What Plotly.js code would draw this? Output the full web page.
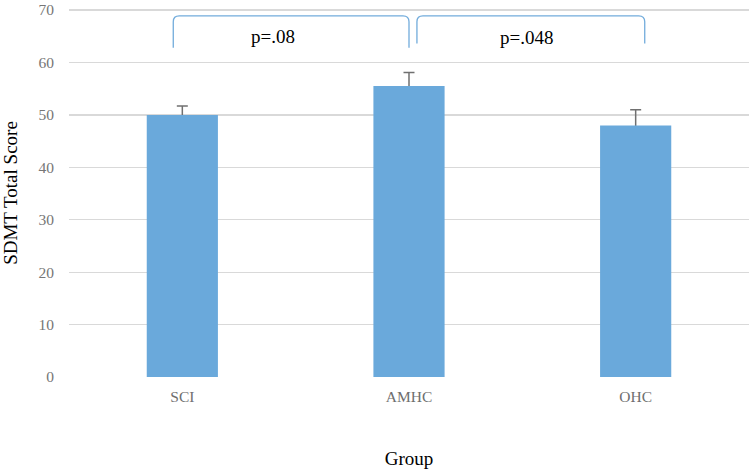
<!DOCTYPE html>
<html>
<head>
<meta charset="utf-8">
<script src="https://cdn.plot.ly/plotly-3.0.1.min.js"></script>
<style>html,body{margin:0;padding:0;background:#fff;}#chart{width:750px;height:471px;}</style>
</head>
<body>
<div id="chart"></div>
<script>
const groups = ["SCI", "AMHC", "OHC"];
const meanScores = [50.0, 55.5, 48.0];
const errorPlus = [1.7, 2.6, 3.0];
const yTicks = [0, 10, 20, 30, 40, 50, 60, 70];
const pLabels = ["p=.08", "p=.048"];
// brackets: [from category index, to category index, bottom y, top y]
const brackets = [[-0.04, 1.0, 62.8, 68.9], [1.035, 2.04, 63.6, 68.9]];
const pLabelX = [0.40, 1.52];
const pLabelY = [64.9, 64.7];

const xRange = [-0.5, 2.5];
const yRange = [0, 70.2];
const ml = 69, mr = 1, mt = 9, mb = 94, W = 750, H = 471;
const pw = W - ml - mr, ph = H - mt - mb;
const toPx = i => (i - xRange[0]) / (xRange[1] - xRange[0]);
const toPy = v => (v - yRange[0]) / (yRange[1] - yRange[0]);
const rx = 6 / pw, ry = 6 / ph;
const serif = 'Liberation Serif, Times New Roman, serif';

const shapes = brackets.map(b => {
  const x0 = toPx(b[0]), x1 = toPx(b[1]), y0 = toPy(b[2]), y1 = toPy(b[3]);
  return {
    type: 'path', xref: 'paper', yref: 'paper',
    path: `M${x0},${y0} L${x0},${y1 - ry} Q${x0},${y1} ${x0 + rx},${y1} L${x1 - rx},${y1} Q${x1},${y1} ${x1},${y1 - ry} L${x1},${y0}`,
    line: {color: '#72acdc', width: 1.3}
  };
});

const annotations = pLabels.map((t, k) => ({
  x: pLabelX[k], y: pLabelY[k], xref: 'x', yref: 'y',
  text: t, showarrow: false,
  font: {family: serif, size: 19, color: '#000'}
}));

// error whiskers drawn underneath the bars so that the lower cap is hidden
const errTrace = {
  type: 'scatter', mode: 'markers', x: groups, y: meanScores,
  marker: {size: 1, color: 'rgba(0,0,0,0)'},
  error_y: {type: 'data', symmetric: false, array: errorPlus, arrayminus: [0.4, 0.4, 0.4], color: '#707070', thickness: 1.5, width: 5.5},
  xaxis: 'x', yaxis: 'y', hoverinfo: 'skip'
};

const barTrace = {
  type: 'bar', x: groups, y: meanScores,
  marker: {color: '#6aa9db'},
  xaxis: 'x2', yaxis: 'y2'
};

const layout = {
  width: W, height: H,
  margin: {l: ml, r: mr, t: mt, b: mb},
  paper_bgcolor: '#fff', plot_bgcolor: '#fff',
  showlegend: false,
  bargap: 0.686,
  font: {family: serif, color: '#767676', size: 15.5},
  xaxis: {
    type: 'category', range: xRange, showgrid: false, zeroline: false, showline: false,
    ticks: 'outside', ticklen: 5, tickcolor: 'rgba(0,0,0,0)',
    tickfont: {family: serif, size: 15.5, color: '#6e6e6e'},
    title: {text: 'Group', font: {family: serif, size: 19, color: '#000'}, standoff: 48}
  },
  yaxis: {
    range: yRange, tickvals: yTicks, showgrid: true, gridcolor: '#d9d9d9', gridwidth: 1.3,
    zeroline: false, showline: false, ticklabeloverflow: 'allow',
    ticks: 'outside', ticklen: 11, tickcolor: 'rgba(0,0,0,0)',
    tickfont: {family: serif, size: 15.5, color: '#767676'},
    title: {text: 'SDMT Total Score', font: {family: serif, size: 19, color: '#000'}, standoff: 20}
  },
  xaxis2: {type: 'category', range: xRange, overlaying: 'x', visible: false, showgrid: false, zeroline: false},
  yaxis2: {range: yRange, overlaying: 'y', visible: false, showgrid: false, zeroline: false},
  shapes: shapes,
  annotations: annotations
};

Plotly.newPlot('chart', [errTrace, barTrace], layout, {displayModeBar: false, staticPlot: true});
</script>
</body>
</html>
